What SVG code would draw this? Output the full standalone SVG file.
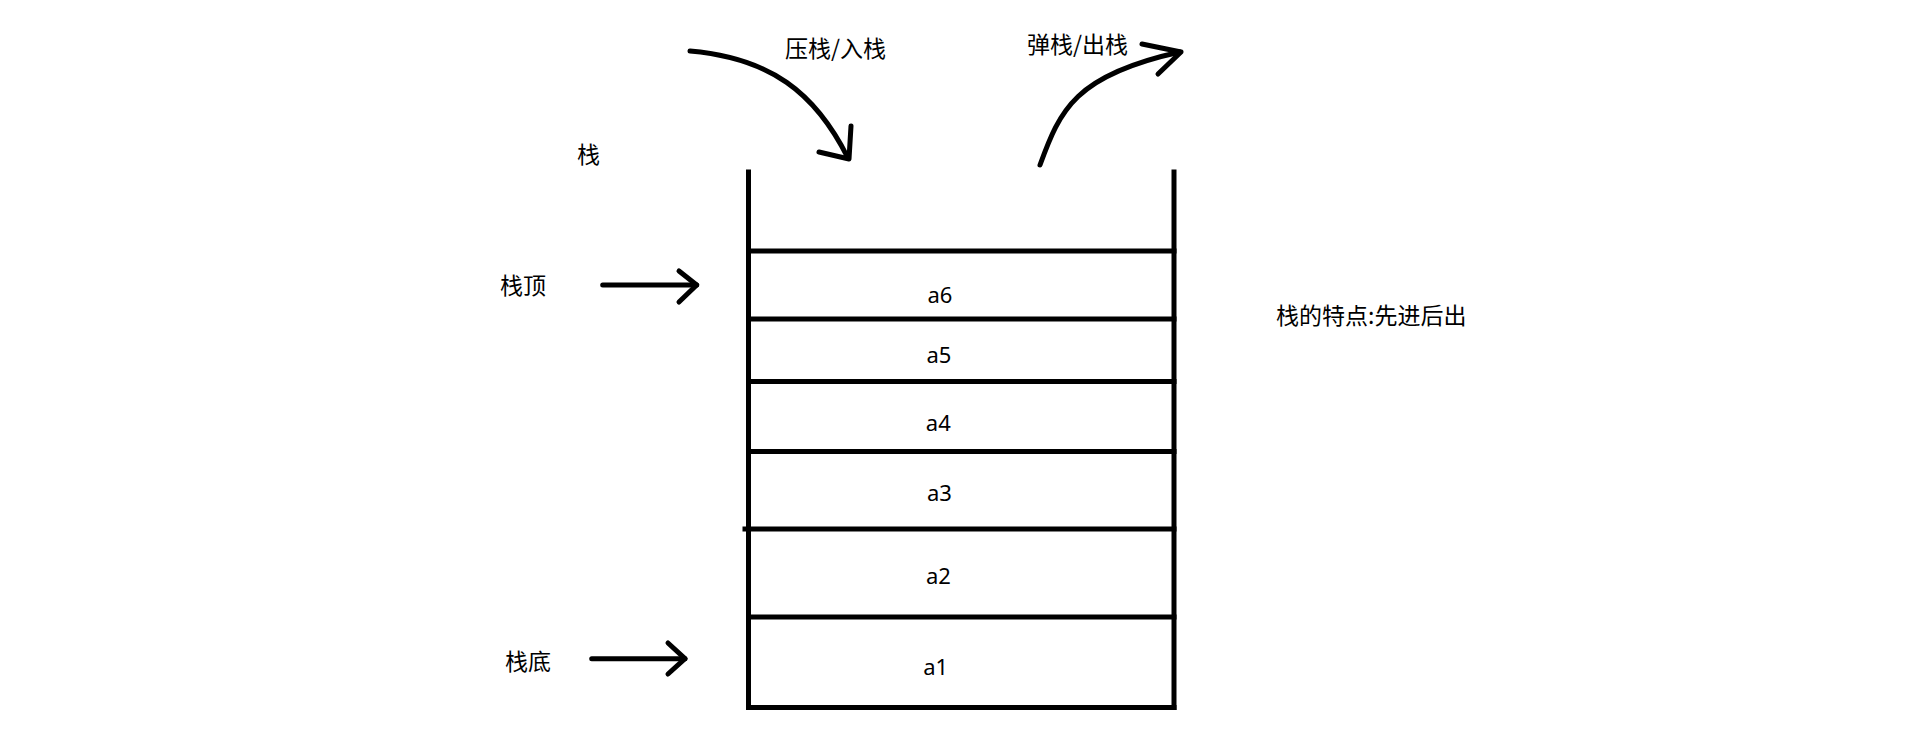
<svg xmlns="http://www.w3.org/2000/svg" width="1914" height="753" viewBox="0 0 1914 753">
<style>
.ln{stroke:#000;stroke-width:5;fill:none;stroke-linecap:square}
.cv{stroke:#000;stroke-width:5;fill:none;stroke-linecap:round;stroke-linejoin:round}
.cjk{font-family:"Noto Sans CJK SC","Noto Sans",sans-serif;font-size:23px;fill:#000}
.lab{font-family:"Noto Sans","Open Sans",sans-serif;font-size:22px;fill:#000;text-anchor:middle}
</style>
<rect x="0" y="0" width="1914" height="753" fill="#fff"/>
<g id="stack">
<line class="ln" x1="748.5" y1="172" x2="748.5" y2="707.5"/>
<line class="ln" x1="1174" y1="172" x2="1174" y2="707.5"/>
<line class="ln" x1="748.5" y1="251" x2="1174" y2="251"/>
<line class="ln" x1="748.5" y1="319" x2="1174" y2="319"/>
<line class="ln" x1="748.5" y1="381.5" x2="1174" y2="381.5"/>
<line class="ln" x1="748.5" y1="451.5" x2="1174" y2="451.5"/>
<line class="ln" x1="745" y1="529" x2="1174" y2="529"/>
<line class="ln" x1="748.5" y1="617" x2="1174" y2="617"/>
<line class="ln" x1="748.5" y1="707.5" x2="1174" y2="707.5"/>
</g>
<g id="a6"><text class="lab" x="940" y="302.7">a6</text></g>
<g id="a5"><text class="lab" x="939" y="363.3">a5</text></g>
<g id="a4"><text class="lab" x="938.3" y="431">a4</text></g>
<g id="a3"><text class="lab" x="939.5" y="500.7">a3</text></g>
<g id="a2"><text class="lab" x="938.5" y="584">a2</text></g>
<g id="a1"><text class="lab" x="935.7" y="675.3">a1</text></g>
<g id="label-stack"><text class="cjk" x="577" y="162.7">栈</text></g>
<g id="label-top"><text class="cjk" x="500" y="294">栈顶</text></g>
<g id="label-bottom"><text class="cjk" x="505" y="669.5">栈底</text></g>
<g id="label-push"><text class="cjk" x="785" y="57">压栈/入栈</text></g>
<g id="label-pop"><text class="cjk" x="1027" y="53">弹栈/出栈</text></g>
<g id="label-feature"><text class="cjk" x="1276" y="324">栈的特点:先进后出</text></g>
<g id="connectors">
<path class="cv" d="M690,51 C770,58 815,92 848,158"/>
<path class="cv" d="M819,152 L849,159 L851,126"/>
<path class="cv" d="M1040,165 C1060,110 1075,75 1180,52"/>
<path class="cv" d="M1142,44 L1181,52 L1158,74"/>
<path class="cv" d="M602.7,285 L696.7,285"/>
<path class="cv" d="M679,271 L696.7,285 L679,302"/>
<path class="cv" d="M591.7,658.7 L685,658.7"/>
<path class="cv" d="M668,643 L685,658.7 L668,674"/>
</g>
</svg>
